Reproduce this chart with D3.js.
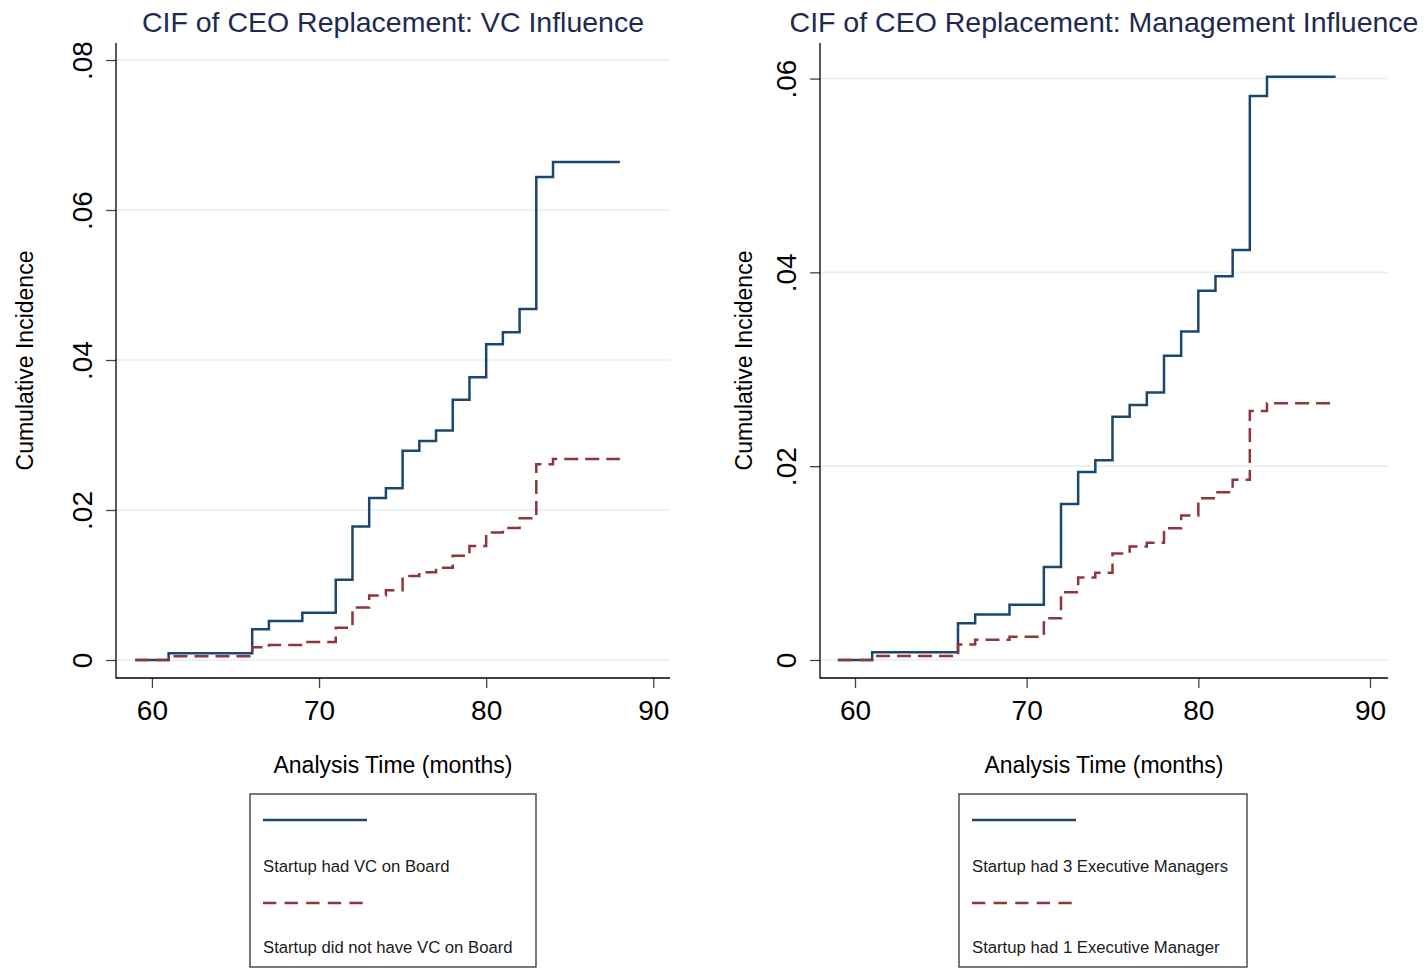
<!DOCTYPE html>
<html>
<head>
<meta charset="utf-8">
<script src="https://cdn.jsdelivr.net/npm/d3@7"></script>
<style>
  html, body { margin: 0; padding: 0; background: #fff; }
  svg { display: block; font-family: "Liberation Sans", Arial, sans-serif; }
</style>
</head>
<body>
<svg id="chart" width="1427" height="968"></svg>
<script>
// ---------------- data ----------------
const months = [59, 61, 66, 67, 69, 71, 72, 73, 74, 75, 76, 77, 78, 79, 80, 81, 82, 83, 84, 88];

const vcBoard    = [0, 0.0009, 0.0041, 0.0052, 0.0063, 0.0107, 0.0178, 0.0216, 0.0229, 0.0279, 0.0292, 0.0306, 0.0347, 0.0377, 0.0421, 0.0437, 0.0468, 0.0644, 0.0664, 0.0664];
const noVcBoard  = [0, 0.0005, 0.0017, 0.0020, 0.0024, 0.0043, 0.0070, 0.0086, 0.0093, 0.0112, 0.0117, 0.0123, 0.0139, 0.0152, 0.0170, 0.0176, 0.0189, 0.0261, 0.0268, 0.0268];

const threeExec  = [0, 0.0008, 0.0038, 0.0047, 0.0057, 0.0096, 0.0161, 0.0194, 0.0206, 0.0251, 0.0263, 0.0276, 0.0314, 0.0339, 0.0381, 0.0396, 0.0423, 0.0582, 0.0602, 0.0602];
const oneExec    = [0, 0.0004, 0.0016, 0.0021, 0.0024, 0.0043, 0.0070, 0.0085, 0.0090, 0.0110, 0.0117, 0.0121, 0.0136, 0.0149, 0.0167, 0.0173, 0.0186, 0.0257, 0.0265, 0.0265];

const xTicks = [60, 70, 80, 90];
const xTickLabels = ["60", "70", "80", "90"];
const yTicksLeft = [0, 0.02, 0.04, 0.06, 0.08];
const yTickLabelsLeft = ["0", ".02", ".04", ".06", ".08"];
const yTicksRight = [0, 0.02, 0.04, 0.06];
const yTickLabelsRight = ["0", ".02", ".04", ".06"];

const titles = ["CIF of CEO Replacement: VC Influence", "CIF of CEO Replacement: Management Influence"];
const xTitle = "Analysis Time (months)";
const yTitle = "Cumulative Incidence";
const legendLeft = ["Startup had VC on Board", "Startup did not have VC on Board"];
const legendRight = ["Startup had 3 Executive Managers", "Startup had 1 Executive Manager"];

// ---------------- styling ----------------
const BLUE = "#1a476f", RED = "#90353b", GRID = "#e6eef0", TITLE = "#1e2a50";
const svg = d3.select("#chart");

function panel(cfg) {
  const g = svg.append("g");
  const x = d3.scaleLinear().domain(cfg.xDomain).range([cfg.left, cfg.right]);
  const y = d3.scaleLinear().domain(cfg.yDomain).range([cfg.bottom, cfg.top]);

  // gridlines
  g.append("g").selectAll("line").data(cfg.yTicks).join("line")
    .attr("x1", cfg.left).attr("x2", cfg.right)
    .attr("y1", d => y(d)).attr("y2", d => y(d))
    .attr("stroke", GRID).attr("stroke-width", 1.6);

  // series
  const line = d3.line().x(d => x(d[0])).y(d => y(d[1])).curve(d3.curveStepAfter);
  g.append("path").datum(months.map((m, i) => [m, cfg.s1[i]]))
    .attr("d", line).attr("fill", "none").attr("stroke", BLUE).attr("stroke-width", 2.5);
  g.append("path").datum(months.map((m, i) => [m, cfg.s2[i]]))
    .attr("d", line).attr("fill", "none").attr("stroke", RED).attr("stroke-width", 2.5)
    .attr("stroke-dasharray", "14,7");

  // x axis
  const xa = g.append("g").attr("transform", `translate(0,${cfg.bottom})`)
    .call(d3.axisBottom(x).tickValues(xTicks).tickSize(10).tickSizeOuter(0)
      .tickFormat((d, i) => xTickLabels[i]));
  xa.select(".domain").remove();
  xa.selectAll(".tick line").attr("stroke", "#444").attr("stroke-width", 1.3);
  xa.selectAll(".tick text").attr("y", 42).attr("dy", 0)
    .attr("font-size", 28).attr("fill", "#000").attr("font-family", "Liberation Sans, Arial, sans-serif");

  // y axis
  const ya = g.append("g").attr("transform", `translate(${cfg.left},0)`)
    .call(d3.axisLeft(y).tickValues(cfg.yTicks).tickSize(10).tickSizeOuter(0)
      .tickFormat((d, i) => cfg.yLabels[i]));
  ya.select(".domain").remove();
  ya.selectAll(".tick line").attr("stroke", "#444").attr("stroke-width", 1.3);
  ya.selectAll(".tick text").attr("x", 0).attr("dy", 0).attr("text-anchor", "middle")
    .attr("transform", "translate(-24,0) rotate(-90)")
    .attr("font-size", 28).attr("fill", "#000").attr("font-family", "Liberation Sans, Arial, sans-serif");

  // axis lines
  g.append("line").attr("x1", cfg.left).attr("x2", cfg.left).attr("y1", cfg.top).attr("y2", cfg.bottom + 0.6)
    .attr("stroke", "#000").attr("stroke-width", 1.3);
  g.append("line").attr("x1", cfg.left).attr("x2", cfg.right).attr("y1", cfg.bottom).attr("y2", cfg.bottom)
    .attr("stroke", "#000").attr("stroke-width", 1.3);

  // titles
  const cx = (cfg.left + cfg.right) / 2;
  g.append("text").attr("x", cx).attr("y", 32).attr("text-anchor", "middle")
    .attr("font-size", 28.5).attr("fill", TITLE).text(cfg.title);
  g.append("text").attr("x", cx).attr("y", 773).attr("text-anchor", "middle")
    .attr("font-size", 23).attr("fill", "#000").text(xTitle);
  g.append("text").attr("transform", `translate(${cfg.yTitleX},${(cfg.top + cfg.bottom) / 2}) rotate(-90)`)
    .attr("text-anchor", "middle").attr("font-size", 23).attr("fill", "#000").text(yTitle);

  // legend
  const L = cfg.legend;
  const lg = g.append("g").attr("transform", `translate(${L.x},794)`);
  lg.append("rect").attr("x", 0).attr("y", 0).attr("width", L.w).attr("height", 173)
    .attr("fill", "#fff").attr("stroke", "#333").attr("stroke-width", 1.3);
  lg.append("line").attr("x1", 13).attr("x2", 117).attr("y1", 26).attr("y2", 26)
    .attr("stroke", BLUE).attr("stroke-width", 2.5);
  lg.append("text").attr("x", 13).attr("y", 78).attr("font-size", 16.7).attr("fill", "#1a1a1a").text(L.labels[0]);
  lg.append("line").attr("x1", 13).attr("x2", 113).attr("y1", 109).attr("y2", 109)
    .attr("stroke", RED).attr("stroke-width", 2.5).attr("stroke-dasharray", "13.3,8.3");
  lg.append("text").attr("x", 13).attr("y", 159).attr("font-size", 16.7).attr("fill", "#1a1a1a").text(L.labels[1]);
}

panel({
  left: 116, right: 670, top: 43, bottom: 678,
  xDomain: [57.85, 91.0], yDomain: [-0.0024, 0.08227],
  yTicks: yTicksLeft, yLabels: yTickLabelsLeft,
  s1: vcBoard, s2: noVcBoard, title: titles[0], yTitleX: 33,
  legend: { x: 250, w: 286, labels: legendLeft }
});

panel({
  left: 820, right: 1388, top: 43, bottom: 678,
  xDomain: [57.96, 91.05], yDomain: [-0.00186, 0.06367],
  yTicks: yTicksRight, yLabels: yTickLabelsRight,
  s1: threeExec, s2: oneExec, title: titles[1], yTitleX: 752,
  legend: { x: 959, w: 288, labels: legendRight }
});
</script>
</body>
</html>
